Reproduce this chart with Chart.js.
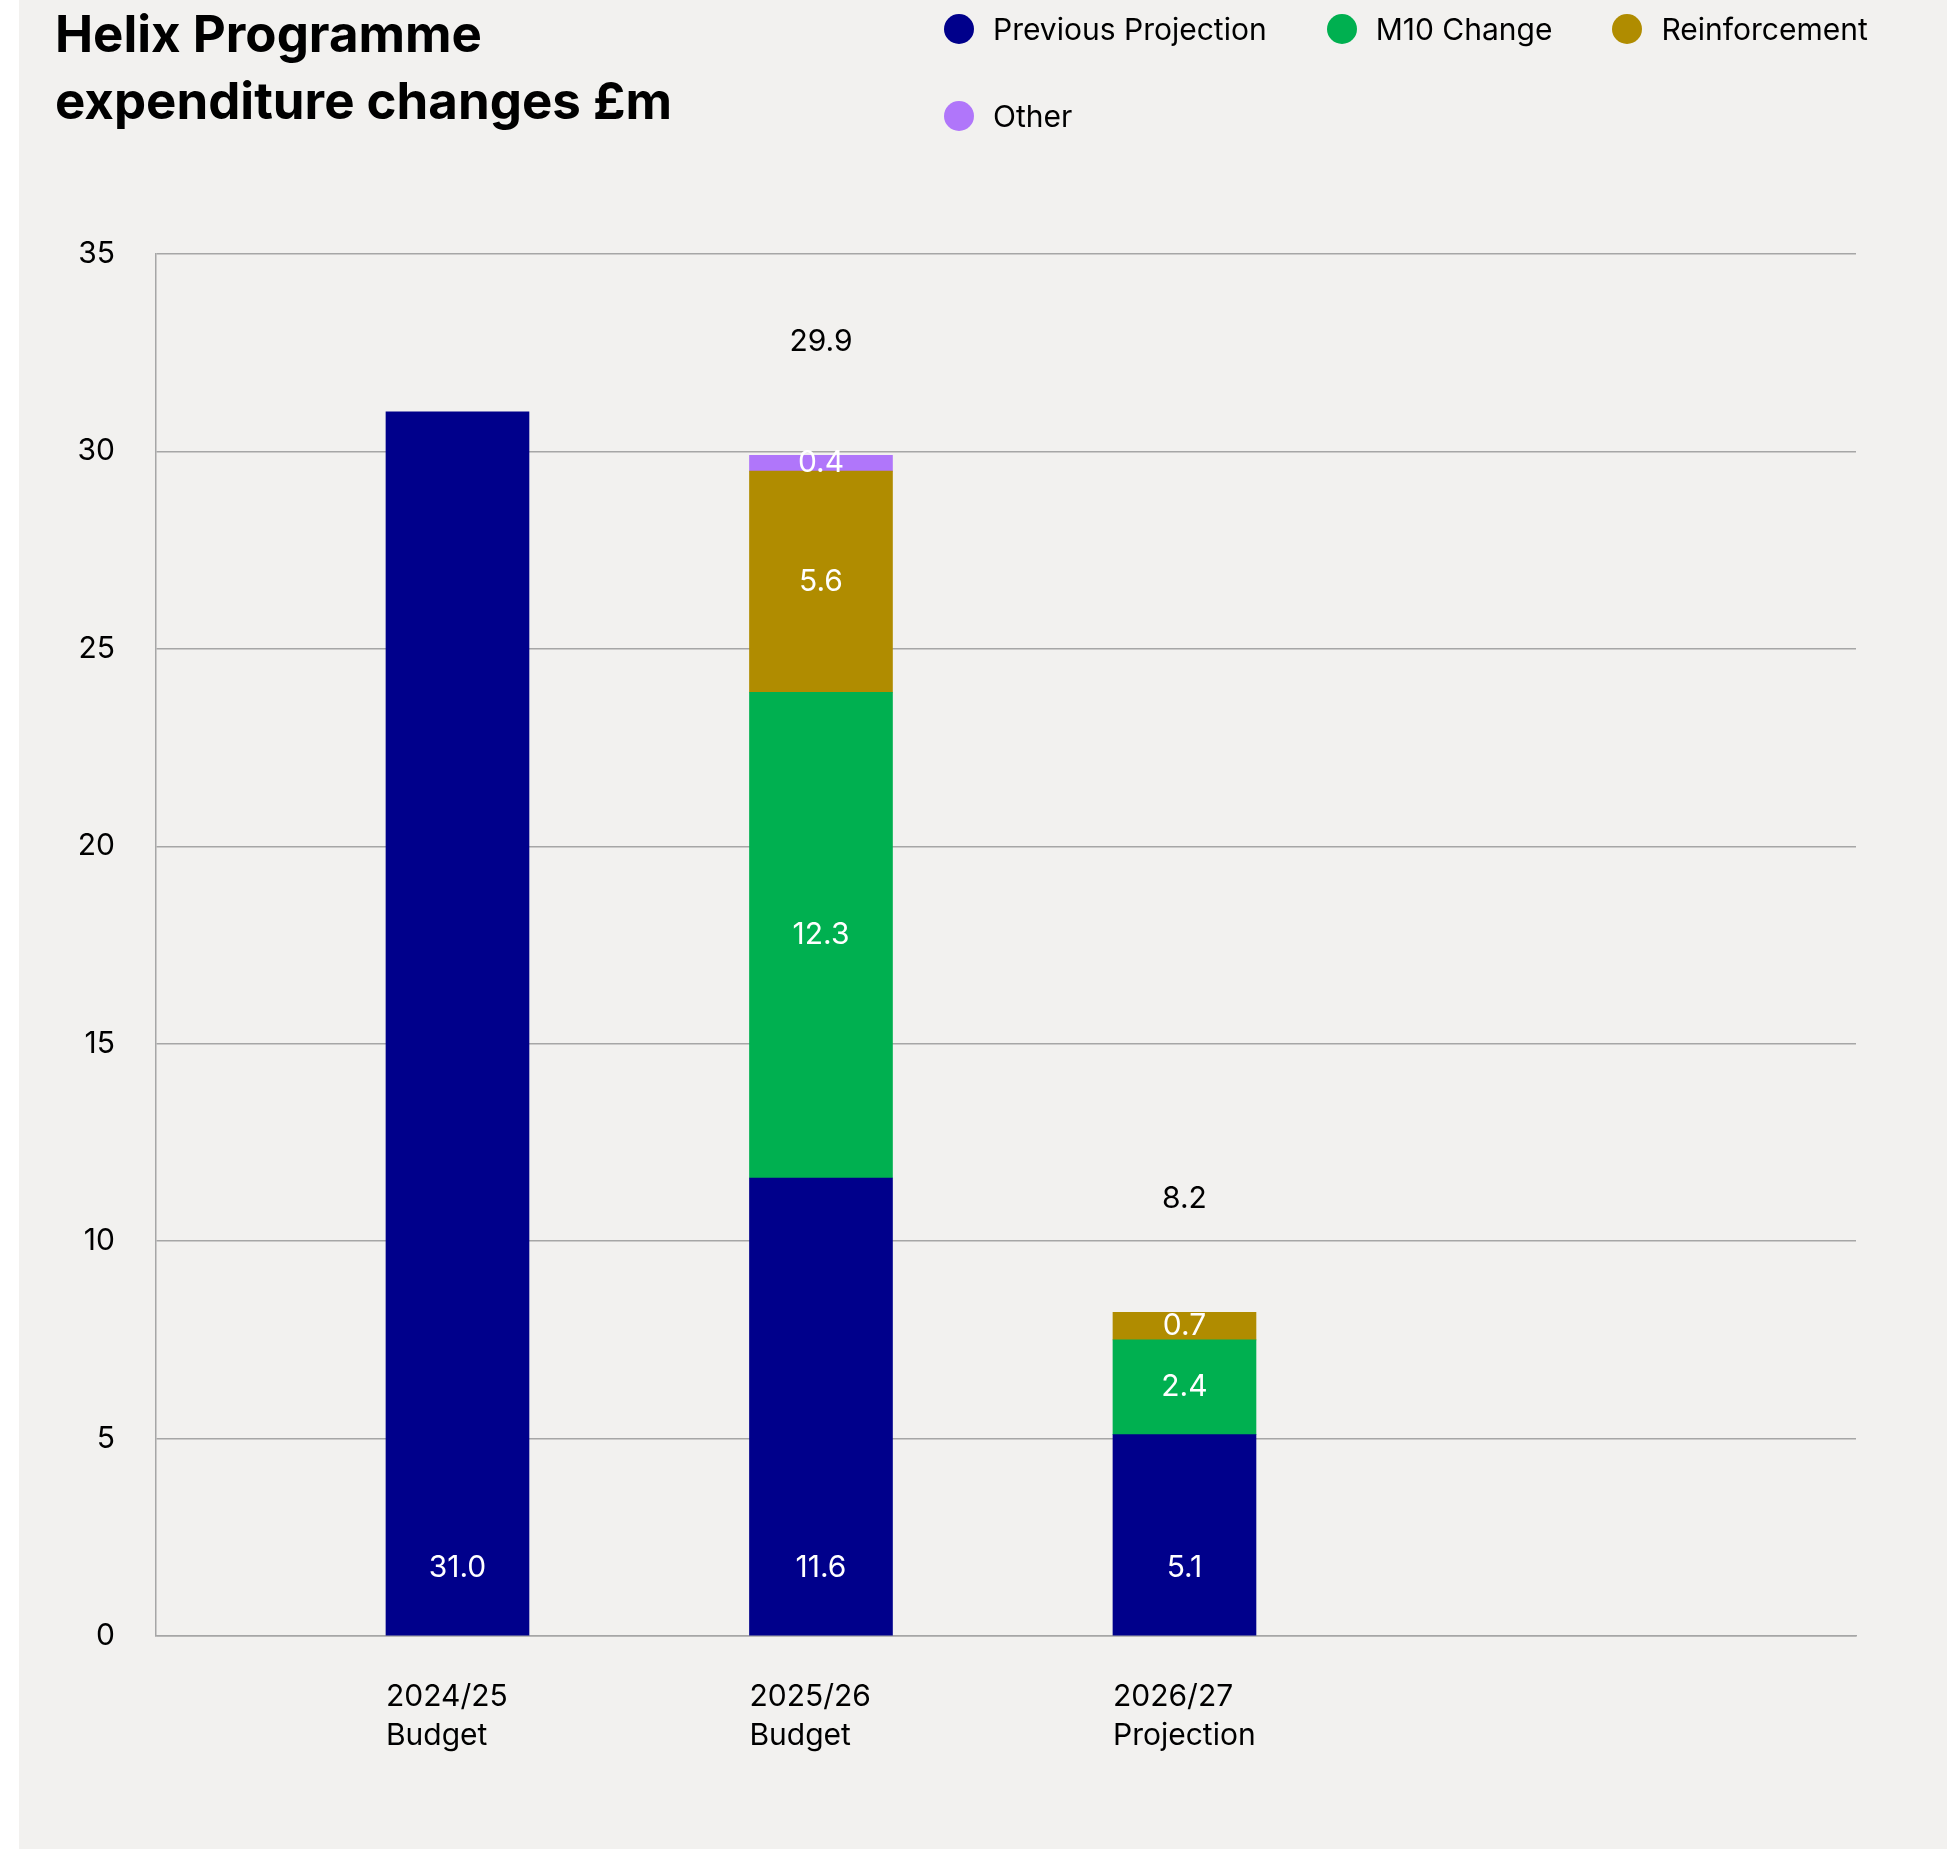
<!DOCTYPE html>
<html lang="en">
<head>
<meta charset="utf-8">
<title>Helix Programme expenditure changes £m</title>
<script src="https://cdn.jsdelivr.net/npm/chart.js@4.4.1/dist/chart.umd.min.js"></script>
<style>
    html, body { margin: 0; padding: 0; background: #ffffff; }
    body { width: 1947px; height: 1851px; position: relative; overflow: hidden; font-family: Inter, 'Noto Sans', sans-serif; }
    .panel { position: absolute; left: 19px; top: 0; width: 1928px; height: 1849px; background: #f2f1ef; }
    .chart-box { position: absolute; left: 0; top: 0; width: 1947px; height: 1851px; }
    h1 { position: absolute; left: 55px; top: 0; margin: 0; font-size: 51px; line-height: 67px; font-weight: 700; color: #000; }
    #legend { position: absolute; left: 944px; top: 14px; width: 990px; display: flex; flex-wrap: wrap; column-gap: 60px; row-gap: 57px; }
    .legend-item { display: flex; align-items: center; height: 30px; font-size: 30px; color: #000; }
    .legend-dot { width: 30px; height: 30px; border-radius: 50%; margin-right: 19px; }
</style>
</head>
<body>
<div class="panel"></div>
<div class="chart-box"><canvas id="expenditureChart"></canvas></div>
<h1>Helix Programme<br>expenditure changes £m</h1>
<div id="legend"></div>

<script>
// Periods and stage shown under each bar
const periods = ['2024/25', '2025/26', '2026/27'];
const stages = ['Budget', 'Budget', 'Projection'];

// Series values, £m (null = no segment for that period)
const previousProjection = [31.0, 11.6, 5.1];
const m10Change = [null, 12.3, 2.4];
const reinforcement = [null, 5.6, 0.7];
const other = [null, 0.4, null];

const seriesNames = ['Previous Projection', 'M10 Change', 'Reinforcement', 'Other'];
const seriesColors = ['#00008b', '#00b050', '#b08c00', '#b076fa'];
const seriesValues = [previousProjection, m10Change, reinforcement, other];

const FONT = 'Inter';

function toPoints(values) {
    return values
        .map((v, i) => ({ x: i, y: v }))
        .filter(p => p.y !== null);
}

// Segment values inside the bars, stack totals above them
const barLabels = {
    id: 'barLabels',
    afterDatasetsDraw(chart) {
        const ctx = chart.ctx;
        const xScale = chart.scales.x;
        const yScale = chart.scales.y;
        ctx.save();
        ctx.font = `30px ${FONT}`;
        ctx.textAlign = 'center';
        ctx.textBaseline = 'middle';

        chart.data.datasets.forEach((ds, di) => {
            const meta = chart.getDatasetMeta(di);
            meta.data.forEach((bar, j) => {
                const value = ds.data[j].y;
                // first series is labelled near the base, the rest in the middle
                const y = di === 0 ? bar.base - 67 : (bar.y + bar.base) / 2;
                ctx.fillStyle = '#ffffff';
                ctx.fillText(value.toFixed(1), bar.x, y);
            });
        });

        ctx.fillStyle = '#000000';
        periods.forEach((p, i) => {
            const parts = seriesValues.map(s => s[i]).filter(v => v !== null);
            if (parts.length < 2) return;
            const total = parts.reduce((sum, v) => sum + v, 0);
            const x = xScale.getPixelForValue(i);
            const y = yScale.getPixelForValue(total) - 113;
            ctx.fillText(total.toFixed(1), x, y);
        });
        ctx.restore();
    }
};

const chart = new Chart(document.getElementById('expenditureChart'), {
    type: 'bar',
    data: {
        datasets: seriesNames.map((name, i) => ({
            label: name,
            data: toPoints(seriesValues[i]),
            backgroundColor: seriesColors[i],
            barThickness: 143
        }))
    },
    options: {
        responsive: true,
        maintainAspectRatio: false,
        animation: false,
        layout: { padding: { left: 20, right: 91, top: 254, bottom: 65 } },
        plugins: {
            legend: { display: false },
            tooltip: { enabled: false }
        },
        scales: {
            x: {
                type: 'linear',
                stacked: true,
                offset: false,
                min: -0.8294,
                max: 3.8474,
                grid: { display: false },
                border: { color: '#a6a6a6', width: 1.5 },
                afterBuildTicks: axis => {
                    axis.ticks = periods.map((p, i) => ({ value: i }));
                },
                afterFit: scale => { scale.height = 150; },
                ticks: {
                    align: 'start',
                    labelOffset: -71.5,
                    padding: 33,
                    autoSkip: false,
                    maxRotation: 0,
                    color: '#000000',
                    font: { family: FONT, size: 30, lineHeight: 1.3 },
                    callback: value => [periods[value], stages[value]]
                }
            },
            y: {
                stacked: true,
                min: 0,
                max: 35,
                afterFit: scale => { scale.width = 136; },
                ticks: {
                    stepSize: 5,
                    padding: 41,
                    color: '#000000',
                    font: { family: FONT, size: 30 }
                },
                grid: { color: '#a6a6a6', lineWidth: 1.5, drawTicks: false },
                border: { color: '#a6a6a6', width: 1.5 }
            }
        }
    },
    plugins: [barLabels]
});

// HTML legend built from the datasets
document.getElementById('legend').innerHTML = chart.data.datasets.map(ds => `
    <div class="legend-item">
        <span class="legend-dot" style="background: ${ds.backgroundColor};"></span>
        <span>${ds.label}</span>
    </div>
`).join('');
</script>
</body>
</html>
